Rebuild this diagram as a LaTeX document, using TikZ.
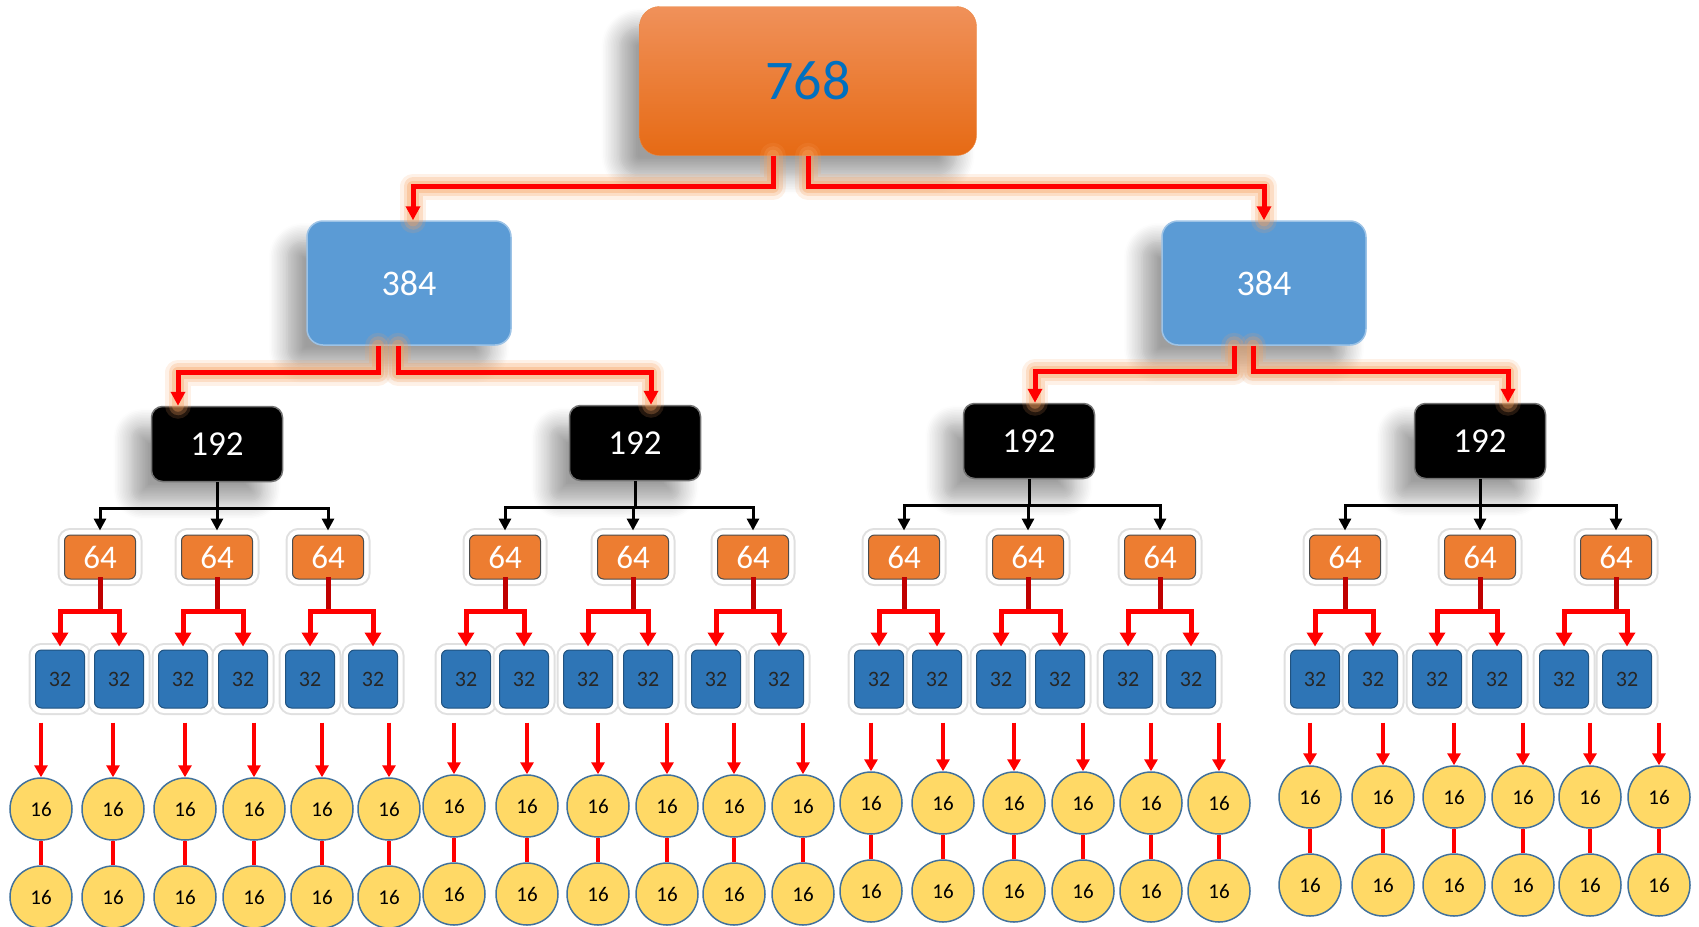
\documentclass[tikz,border=0pt]{standalone}
\usepackage{fontspec}
\setmainfont{Carlito}
\usepackage{xcolor}
\usepackage{tikz}
\usetikzlibrary{calc}
\usetikzlibrary{arrows.meta}
\usetikzlibrary{shadows.blur}

\definecolor{topup}{HTML}{F0915A}
\definecolor{topdown}{HTML}{E66A14}
\definecolor{toptext}{HTML}{0070C0}
\definecolor{halfblue}{HTML}{5B9BD5}
\definecolor{quarter}{HTML}{ED7D31}
\definecolor{eighth}{HTML}{2E75B6}
\definecolor{coinfill}{HTML}{FFD966}
\definecolor{coinring}{HTML}{41719C}
\definecolor{hotred}{HTML}{FF0000}
\definecolor{stemred}{HTML}{C00000}
\definecolor{glow}{HTML}{F7A15E}

\tikzset{
  bigshadow/.style={blur shadow={shadow xshift=-20pt, shadow yshift=-20pt, shadow blur radius=18pt, shadow blur steps=12, shadow opacity=38}},
  box768/.style={rounded corners=20pt, top color=topup, bottom color=topdown, draw=topdown!80!white, minimum width=337pt, minimum height=149pt, text=toptext, font=\fontsize{56}{60}\selectfont, bigshadow},
  box384/.style={rounded corners=16pt, fill=halfblue, draw=halfblue!60!white, line width=1.5pt, minimum width=204pt, minimum height=124pt, text=white, font=\fontsize{36}{40}\selectfont, bigshadow},
  box192/.style={rounded corners=11pt, fill=black, draw=black!55, line width=1.5pt, minimum width=131pt, minimum height=75pt, text=white, font=\fontsize{35}{40}\selectfont, bigshadow},
  halo/.style={preaction={draw=black!12, line width=14pt}, preaction={draw=white, line width=10pt}},
  box64/.style={rounded corners=6pt, fill=quarter, draw=black!70, line width=1pt, minimum width=71pt, minimum height=44pt, text=white, font=\fontsize{33}{36}\selectfont, halo},
  box32/.style={rounded corners=6pt, fill=eighth, draw=eighth!70!black, line width=1pt, minimum width=49pt, minimum height=58pt, text=black!85, font=\fontsize{22}{24}\selectfont, halo},
  coin/.style={circle, fill=coinfill, draw=coinring, line width=1.5pt, minimum size=62pt, inner sep=0pt, text=black, font=\fontsize{21}{24}\selectfont},
  hot/.style={draw=hotred, line width=5pt, -{Triangle[width=14pt,length=14pt]},
    preaction={draw=glow, draw opacity=.15, line width=26pt, arrows=-, line join=round, line cap=round},
    preaction={draw=glow, draw opacity=.25, line width=19pt, arrows=-, line join=round, line cap=round},
    preaction={draw=glow, draw opacity=.35, line width=12pt, arrows=-, line join=round, line cap=round}},
  blk/.style={draw=black, line width=3pt, -{Triangle[width=12pt,length=12pt]}, shorten >=4pt},
  stem/.style={draw=stemred, line width=5pt, line cap=rect},
  branch/.style={draw=hotred, line width=5pt, -{Triangle[width=16pt,length=14pt]}, shorten >=3pt},
  drop/.style={draw=hotred, line width=4pt, -{Triangle[width=13pt,length=12pt]}},
  link/.style={draw=hotred, line width=4pt}
}

\begin{document}
\begin{tikzpicture}[x=1pt, y=-1pt]
\useasboundingbox (0,0) rectangle (1699,926);

\node[box768] (top) at (808,81) {768};
\node[box384] (l384) at (409,283) {384};
\node[box384] (r384) at (1264,283) {384};

\node[box192] (g1) at (217,444) {192};
\node[box192] (g2) at (635,443) {192};
\node[box192] (g3) at (1029,441) {192};
\node[box192] (g4) at (1480,441) {192};

\node[box64] (a1) at (100,557) {64};
\node[box64] (a2) at (217,557) {64};
\node[box64] (a3) at (328,557) {64};
\node[box64] (a4) at (505,557) {64};
\node[box64] (a5) at (633,557) {64};
\node[box64] (a6) at (753,557) {64};
\node[box64] (a7) at (904,557) {64};
\node[box64] (a8) at (1028,557) {64};
\node[box64] (a9) at (1160,557) {64};
\node[box64] (a10) at (1345,557) {64};
\node[box64] (a11) at (1480,557) {64};
\node[box64] (a12) at (1616,557) {64};

\foreach \n/\x in {1/60,2/119,3/183,4/243,5/310,6/373,7/466,8/524,9/588,10/648,11/716,12/779,13/879,14/937,15/1001,16/1060,17/1128,18/1191,19/1315,20/1373,21/1437,22/1497,23/1564,24/1627}
  \node[box32] (s\n) at (\x,679) {32};

\foreach \n/\x/\y in {1/41/809,2/113/809,3/185/809,4/254/809,5/322/809,6/389/809,7/454/806,8/527/806,9/598/806,10/667/806,11/734/806,12/803/806,13/871/803,14/943/803,15/1014/803,16/1083/803,17/1151/803,18/1219/803,19/1310/797,20/1383/797,21/1454/797,22/1523/797,23/1590/797,24/1659/797}{
  \node[coin] (u\n) at (\x,\y) {16};
  \node[coin] (v\n) at (\x,\y+88) {16};
  \draw[drop] ($(u\n.north |- s\n.south)+(0,14)$) -- (u\n.north);
  \draw[link] (u\n.south) -- (v\n.north);
}

\draw[hot] ([xshift=-35pt]top.south) -- ++(0,31) -| ([xshift=4pt]l384.north);
\draw[hot] (top.south) -- ++(0,31) -| (r384.north);

\draw[hot] ([xshift=-31pt]l384.south) -- ++(0,27) -| ([xshift=-39pt]g1.north);
\draw[hot] ([xshift=-11pt]l384.south) -- ++(0,27) -| ([xshift=16pt]g2.north);
\draw[hot] ([xshift=-30pt]r384.south) -- ++(0,26) -| ([xshift=6pt]g3.north);
\draw[hot] ([xshift=-11pt]r384.south) -- ++(0,26) -| ([xshift=28pt]g4.north);

\draw[blk] (g1.south) -- ++(0,26) -| (a1.north);
\draw[blk] (g1.south) -- ++(0,26) -| (a2.north);
\draw[blk] (g1.south) -- ++(0,26) -| (a3.north);
\draw[blk] (g2.south) -- ++(0,26) -| (a4.north);
\draw[blk] (g2.south) -- ++(0,26) -| (a5.north);
\draw[blk] (g2.south) -- ++(0,26) -| (a6.north);
\draw[blk] (g3.south) -- ++(0,26) -| (a7.north);
\draw[blk] (g3.south) -- ++(0,26) -| (a8.north);
\draw[blk] (g3.south) -- ++(0,26) -| (a9.north);
\draw[blk] (g4.south) -- ++(0,26) -| (a10.north);
\draw[blk] (g4.south) -- ++(0,26) -| (a11.north);
\draw[blk] (g4.south) -- ++(0,26) -| (a12.north);

\foreach \p/\l/\r in {1/1/2,2/3/4,3/5/6,4/7/8,5/9/10,6/11/12,7/13/14,8/15/16,9/17/18,10/19/20,11/21/22,12/23/24}{
  \draw[stem] (a\p.south) -- ++(0,32) coordinate (k\p);
  \draw[branch] (k\p) -| (s\l.north);
  \draw[branch] (k\p) -| (s\r.north);
}
\end{tikzpicture}
\end{document}
